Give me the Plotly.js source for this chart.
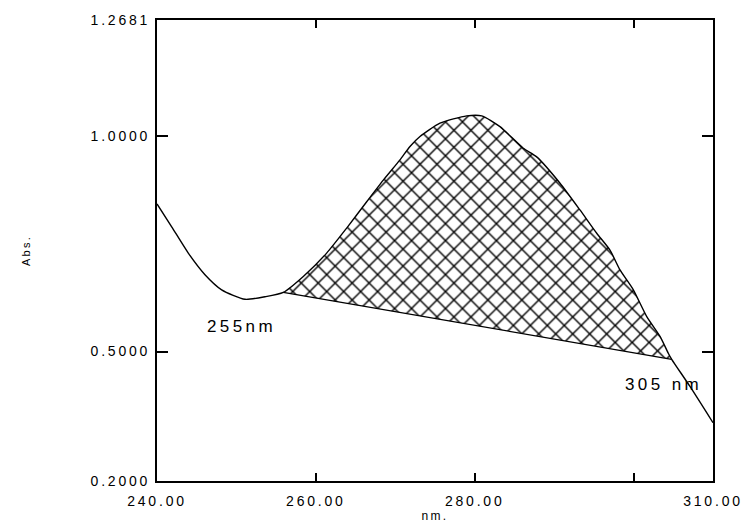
<!DOCTYPE html>
<html>
<head>
<meta charset="utf-8">
<script src="https://cdn.plot.ly/plotly-3.0.1.min.js"></script>
<style>
html, body { margin: 0; padding: 0; background: #fff; }
#chart { width: 744px; height: 523px; }
svg text { letter-spacing: 0.2em; }
</style>
</head>
<body>
<div id="chart"></div>
<script>
// Spectrum (wavelength in nm, absorbance)
const wavelength = [240.0, 241.85, 243.94, 246.04, 248.14, 251.08, 253.6, 255.9, 258.42, 261.36, 263.88, 266.4, 268.49, 270.59, 271.85, 273.11, 275.63, 278.99, 280.88, 283.18, 286.12, 287.8, 290.74, 293.25, 295.36, 297.03, 298.29, 299.97, 301.66, 303.33, 304.37, 304.8, 307.1, 310.0];
const absorbance = [0.842, 0.789, 0.728, 0.678, 0.643, 0.621, 0.627, 0.637, 0.674, 0.728, 0.786, 0.847, 0.897, 0.944, 0.975, 0.998, 1.029, 1.046, 1.046, 1.021, 0.971, 0.951, 0.890, 0.828, 0.774, 0.735, 0.689, 0.643, 0.581, 0.535, 0.496, 0.482, 0.419, 0.335];

// Integration band limits (baseline endpoints)
const bandStart = 255.9;
const bandEnd = 304.8;

// Axis ticks
const xTickVals = [240, 260, 280, 300, 310];
const xTickText = ['240.00', '260.00', '280.00', '', '310.00'];
const yTickVals = [0.2, 0.5, 1.0, 1.2681];
const yTickText = ['0.2000', '0.5000', '1.0000', '1.2681'];

// Labels
const labelTexts = ['255nm', '305 nm'];
const labelX = [250.7, 303.8];
const labelY = [0.557, 0.423];

// Hatched region: curve within band, closed by straight baseline
const bandX = [], bandY = [];
wavelength.forEach((w, i) => {
  if (w >= bandStart && w <= bandEnd) { bandX.push(w); bandY.push(absorbance[i]); }
});
const baseX = [bandX[0], bandX[bandX.length - 1]];
const baseY = [bandY[0], bandY[bandY.length - 1]];

const traces = [
  {
    x: bandX, y: bandY, type: 'scatter', mode: 'lines',
    fill: 'toself', fillcolor: 'white',
    fillpattern: { shape: 'x', size: 12, solidity: 0.22, fgcolor: '#000', bgcolor: '#fff' },
    line: { color: 'rgba(0,0,0,0)', width: 0, shape: 'spline', smoothing: 0.6 },
    hoverinfo: 'skip', showlegend: false
  },
  {
    x: baseX, y: baseY, type: 'scatter', mode: 'lines',
    line: { color: '#000', width: 1.3 },
    hoverinfo: 'skip', showlegend: false
  },
  {
    x: wavelength, y: absorbance, type: 'scatter', mode: 'lines',
    line: { color: '#000', width: 1.4, shape: 'spline', smoothing: 0.6 },
    showlegend: false
  }
];

const fontBase = { family: 'Liberation Sans, Arial, sans-serif', color: '#000' };

const layout = {
  width: 744, height: 523,
  margin: { l: 157, r: 31, t: 20, b: 42 },
  paper_bgcolor: '#fff', plot_bgcolor: '#fff',
  showlegend: false,
  xaxis: {
    range: [240, 310], tickmode: 'array', tickvals: xTickVals, ticktext: xTickText,
    ticks: 'inside', ticklen: 8, tickwidth: 2, tickcolor: '#000',
    showline: true, linecolor: '#000', linewidth: 2, mirror: 'ticks',
    showgrid: false, zeroline: false, ticklabelstandoff: 6,
    tickfont: Object.assign({ size: 14 }, fontBase),
    title: { text: 'nm.', font: Object.assign({ size: 12 }, fontBase), standoff: 10 }
  },
  yaxis: {
    range: [0.2, 1.2681], tickmode: 'array', tickvals: yTickVals, ticktext: yTickText,
    ticks: 'inside', ticklen: 11, tickwidth: 2, tickcolor: '#000',
    showline: true, linecolor: '#000', linewidth: 2, mirror: 'ticks',
    showgrid: false, zeroline: false, ticklabelstandoff: 2,
    tickfont: Object.assign({ size: 14 }, fontBase),
    title: { text: 'Abs.', font: Object.assign({ size: 11 }, fontBase), standoff: 58 }
  },
  annotations: labelTexts.map((t, i) => ({
    x: labelX[i], y: labelY[i], xref: 'x', yref: 'y', text: t, showarrow: false,
    font: Object.assign({ size: 17 }, fontBase)
  }))
};

Plotly.newPlot('chart', traces, layout, { displayModeBar: false, staticPlot: true });
</script>
</body>
</html>
